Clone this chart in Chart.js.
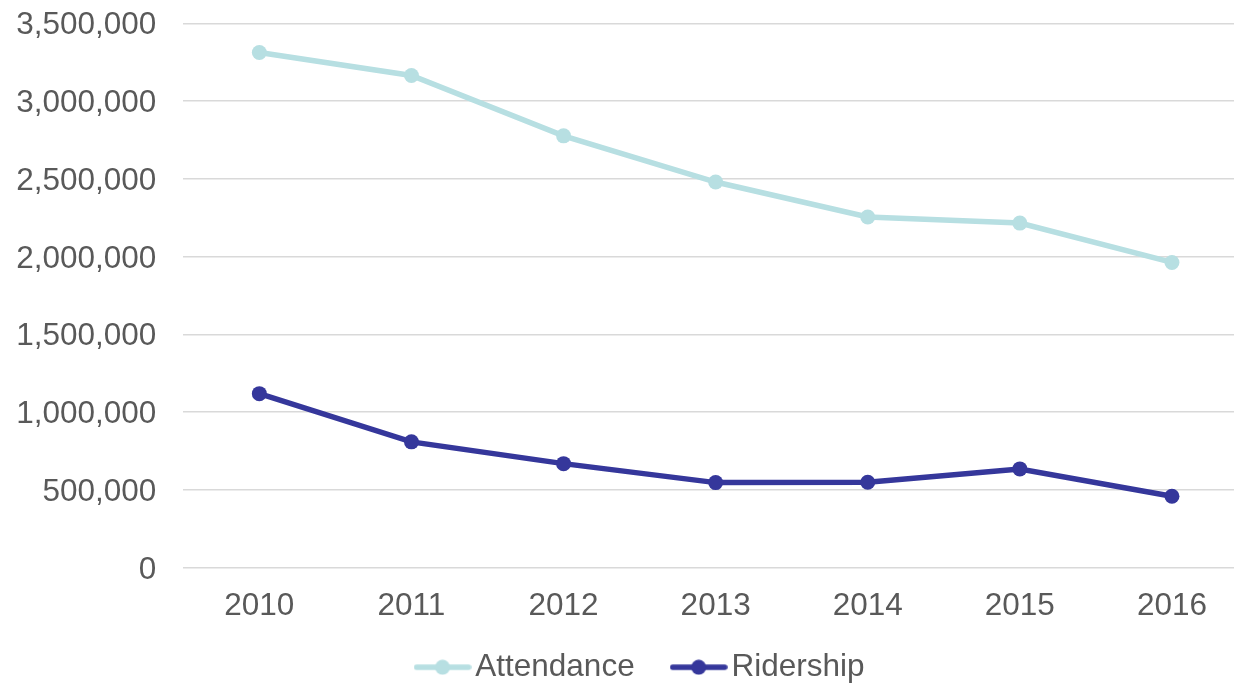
<!DOCTYPE html>
<html><head><meta charset="utf-8">
<script src="https://cdn.jsdelivr.net/npm/chart.js@4"></script>
<style>
html,body{margin:0;padding:0;overflow:hidden;background:#fff;width:1234px;height:683px}
#wrap{position:absolute;left:0;top:0;width:1280px;height:720px}
canvas{display:block}
</style></head><body><div id="wrap"><canvas id="c" width="1280" height="720"></canvas></div>
<script>
const years = ['2010', '2011', '2012', '2013', '2014', '2015', '2016'];
const attendance = [3312000, 3164000, 2776000, 2479000, 2254000, 2215000, 1962000];
const ridership = [1118000, 808000, 668000, 546000, 548000, 634000, 458000];
const seriesNames = ['Attendance', 'Ridership'];
const seriesColors = ['#b7dfe2', '#35379b'];
const yMax = 3500000;
const yStep = 500000;

const FONT = "'Liberation Sans', Arial, sans-serif";
const TEXT = '#595959';
const FS = 31.5;

function makeIcon(color) {
  const c = document.createElement('canvas');
  c.width = 58; c.height = 16;
  const g = c.getContext('2d');
  g.strokeStyle = color; g.lineWidth = 5.5; g.lineCap = 'round';
  g.beginPath(); g.moveTo(3, 8); g.lineTo(55, 8); g.stroke();
  g.fillStyle = color;
  g.beginPath(); g.arc(29, 8, 7.5, 0, Math.PI * 2); g.fill();
  return c;
}
const icons = seriesColors.map(makeIcon);

const legendShift = {
  id: 'legendShift',
  afterLayout(chart) {
    const l = chart.legend;
    if (l) { l.left += 21; l.right += 21; l.top -= 23; l.bottom -= 23; }
  }
};

new Chart(document.getElementById('c'), {
  type: 'line',
  data: {
    labels: years,
    datasets: [attendance, ridership].map((d, i) => ({
      label: seriesNames[i],
      data: d,
      borderColor: seriesColors[i],
      backgroundColor: seriesColors[i],
      pointBackgroundColor: seriesColors[i],
      pointBorderWidth: 0,
      pointRadius: 7.5,
      borderWidth: 5.5,
      tension: 0,
      fill: false
    }))
  },
  options: {
    responsive: false,
    animation: false,
    layout: { padding: { left: 0, right: 32, top: 23.3, bottom: 4 } },
    plugins: {
      tooltip: { enabled: false },
      legend: {
        position: 'bottom',
        labels: {
          usePointStyle: true,
          pointStyleWidth: 34,
          padding: 47,
          color: TEXT,
          font: { family: FONT, size: FS },
          generateLabels(chart) {
            const items = Chart.defaults.plugins.legend.labels.generateLabels(chart);
            items.forEach((it, i) => { it.pointStyle = icons[i]; });
            return items;
          }
        }
      }
    },
    scales: {
      x: {
        offset: true,
        grid: { display: false, drawTicks: false },
        border: { display: false },
        ticks: { color: TEXT, font: { family: FONT, size: FS }, padding: 20, maxRotation: 0 },
        afterFit(s) { s.height = 60; }
      },
      y: {
        min: 0, max: yMax,
        grid: { color: '#d9d9d9', lineWidth: 1.5, drawTicks: false },
        border: { display: false },
        ticks: {
          stepSize: yStep,
          color: TEXT,
          font: { family: FONT, size: FS },
          padding: 27,
          labelOffset: 2.5,
          callback: v => Number(v).toLocaleString('en-US')
        },
        afterFit(s) { s.width = 183.3; s.paddingTop = 0; s.paddingBottom = 0; }
      }
    }
  },
  plugins: [legendShift]
});
</script></body></html>
